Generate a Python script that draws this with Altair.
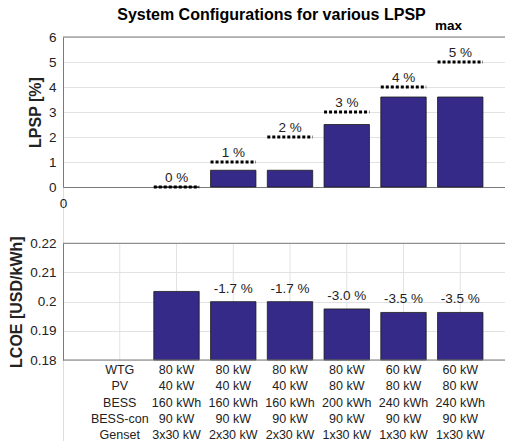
import altair as alt
import pandas as pd

# ---------------- data ----------------
positions = [2, 3, 4, 5, 6, 7]
lpsp = [0.0, 0.67, 0.67, 2.5, 3.6, 3.6]
lpsp_max = [0, 1, 2, 3, 4, 5]
lpsp_labels = ["0 %", "1 %", "2 %", "3 %", "4 %", "5 %"]
lcoe = [0.2035, 0.2000, 0.2000, 0.1975, 0.1963, 0.1963]
lcoe_labels = ["", "-1.7 %", "-1.7 %", "-3.0 %", "-3.5 %", "-3.5 %"]

row_names = ["WTG", "PV", "BESS", "BESS-con", "Genset"]
wtg = ["80 kW", "80 kW", "80 kW", "80 kW", "60 kW", "60 kW"]
pv = ["40 kW", "40 kW", "40 kW", "80 kW", "80 kW", "80 kW"]
bess = ["160 kWh", "160 kWh", "160 kWh", "200 kWh", "240 kWh", "240 kWh"]
bess_con = ["90 kW", "90 kW", "90 kW", "90 kW", "90 kW", "90 kW"]
genset = ["3x30 kW", "2x30 kW", "2x30 kW", "1x30 kW", "1x30 kW", "1x30 kW"]
label_pos = 1

lpsp_ticks = [0, 1, 2, 3, 4, 5, 6]
lcoe_ticks = [0.18, 0.19, 0.20, 0.21, 0.22]
x_ticks = [0]
grid_x = [1, 2, 3, 4, 5, 6, 7]

title_main = "System Configurations for various LPSP"
title_sub = "max"

# ---------------- tables ----------------
top_df = pd.DataFrame({"pos": positions, "lpsp": lpsp, "lpsp_max": lpsp_max,
                       "label": lpsp_labels})
bot_df = pd.DataFrame({"pos": positions, "lcoe": lcoe, "label": lcoe_labels})
grid_df = pd.DataFrame({"gx": grid_x})

rows = []
cols = [wtg, pv, bess, bess_con, genset]
for name, vals in zip(row_names, cols):
    rows.append({"row": name, "pos": label_pos, "txt": name})
    for p, v in zip(positions, vals):
        rows.append({"row": name, "pos": p, "txt": v})
table_df = pd.DataFrame(rows)
one = pd.DataFrame({"k": [0]})

FONT = "Liberation Sans"
TXT = "#222222"
FRAME = "#7a7a7a"
GRID = "#e2e2e2"
BAR = "#352A87"

xs = alt.Scale(domain=[0, 8], range=[0, 454], nice=False, zero=False)
xaxis = alt.Axis(values=x_ticks, title=None, offset=-254, ticks=False, grid=False,
                 labelPadding=9, domainColor=FRAME, labelFontSize=13.5,
                 labelFont=FONT, labelColor=TXT, labelFlush=False)


def X(f):
    return alt.X(f, type="quantitative", scale=xs, axis=xaxis)


# ---------------- top panel ----------------
ys_top = alt.Scale(domain=[0, 6], range=[150, 0], nice=False, zero=False)
yaxis_top = alt.Axis(values=lpsp_ticks, title="LPSP [%]", orient="left",
                     grid=True, gridColor=GRID, ticks=False, domainColor=FRAME,
                     labelPadding=7, labelFontSize=13.5, labelFont=FONT,
                     labelColor=TXT, titleFont=FONT, titleFontSize=16,
                     titleFontWeight="bold", titleColor=TXT, titlePadding=5)

base_top = alt.Chart(top_df).transform_calculate(
    x1="datum.pos - 0.4", x2="datum.pos + 0.4")

top_bars = base_top.mark_bar(color=BAR, stroke="#1a1a1a", strokeWidth=0.8).encode(
    x=X("x1"), x2="x2",
    y=alt.Y("lpsp", type="quantitative", scale=ys_top, axis=yaxis_top),
    y2=alt.datum(0))
top_rules = base_top.mark_rule(color="black", strokeWidth=3, strokeDash=[3, 2]).encode(
    x=X("x1"), x2="x2",
    y=alt.Y("lpsp_max", type="quantitative", scale=ys_top, axis=yaxis_top))
top_text = base_top.mark_text(font=FONT, fontSize=13.5, color=TXT,
                              baseline="alphabetic", dy=-5).encode(
    x=X("pos"),
    y=alt.Y("lpsp_max", type="quantitative", scale=ys_top, axis=yaxis_top),
    text="label")
top_frame = alt.Chart(one).mark_rule(color=FRAME, strokeWidth=1).encode(
    x=alt.X(datum=0, type="quantitative", scale=xs, axis=xaxis),
    x2=alt.datum(8),
    y=alt.Y(datum=6, type="quantitative", scale=ys_top, axis=yaxis_top))

top_layer = alt.layer(top_frame, top_bars, top_rules, top_text)

# ---------------- bottom panel ----------------
ys_bot = alt.Scale(domain=[0.18, 0.22], range=[323, 206.3], nice=False, zero=False)
yaxis_bot = alt.Axis(values=lcoe_ticks, format=".2~f", title="LCOE [USD/kWh]",
                     orient="left", grid=True, gridColor=GRID, ticks=False,
                     domainColor=FRAME, labelPadding=7, labelFontSize=13.5,
                     labelFont=FONT, labelColor=TXT, titleFont=FONT,
                     titleFontSize=16, titleFontWeight="bold", titleColor=TXT,
                     titlePadding=5)

vgrid = alt.Chart(grid_df).mark_rule(color=GRID, strokeWidth=1).encode(
    x=X("gx"),
    y=alt.Y(datum=0.18, type="quantitative", scale=ys_bot, axis=yaxis_bot),
    y2=alt.datum(0.22))
bot_frame_t = alt.Chart(one).mark_rule(color=FRAME, strokeWidth=1).encode(
    x=alt.X(datum=0, type="quantitative", scale=xs, axis=xaxis),
    x2=alt.datum(8),
    y=alt.Y(datum=0.22, type="quantitative", scale=ys_bot, axis=yaxis_bot))
bot_frame_b = alt.Chart(one).mark_rule(color=FRAME, strokeWidth=1).encode(
    x=alt.X(datum=0, type="quantitative", scale=xs, axis=xaxis),
    x2=alt.datum(8),
    y=alt.Y(datum=0.18, type="quantitative", scale=ys_bot, axis=yaxis_bot))

base_bot = alt.Chart(bot_df).transform_calculate(
    x1="datum.pos - 0.4", x2="datum.pos + 0.4")
bot_bars = base_bot.mark_bar(color=BAR, stroke="#1a1a1a", strokeWidth=0.8).encode(
    x=X("x1"), x2="x2",
    y=alt.Y("lcoe", type="quantitative", scale=ys_bot, axis=yaxis_bot),
    y2=alt.datum(0.18))
bot_text = base_bot.mark_text(font=FONT, fontSize=13.5, color=TXT,
                              baseline="alphabetic", dy=-9).encode(
    x=X("pos"),
    y=alt.Y("lcoe", type="quantitative", scale=ys_bot, axis=yaxis_bot),
    text="label")

bot_layer = alt.layer(vgrid, bot_bars, bot_frame_t, bot_frame_b, bot_text)

# ---------------- table ----------------
ys_tab = alt.Scale(type="point", domain=row_names, range=[333, 398], padding=0)
table = alt.Chart(table_df).mark_text(font=FONT, fontSize=12.5, color=TXT,
                                      baseline="middle").encode(
    x=X("pos"),
    y=alt.Y("row", type="nominal", scale=ys_tab, axis=None),
    text="txt")

# ---------------- title (with subscript) ----------------
title_txt = alt.Chart(one).mark_text(text=title_main, font=FONT, fontSize=16,
                                     fontWeight="bold", color="black",
                                     align="center", baseline="alphabetic").encode(
    x=alt.value(208.5), y=alt.value(-17))
sub_txt = alt.Chart(one).mark_text(text=title_sub, font=FONT, fontSize=13.5,
                                   fontWeight="bold", color="black", align="left",
                                   baseline="alphabetic").encode(
    x=alt.value(372), y=alt.value(-7))

chart = alt.layer(top_layer, bot_layer, table, title_txt, sub_txt).resolve_scale(
    y="independent"
).properties(
    width=442, height=404,
    autosize=alt.AutoSizeParams(type="none"),
    padding={"left": 55, "top": 29, "right": 0, "bottom": 0},
).configure_view(stroke=None).configure(background="white")

chart.save("out.html", embed_options={"renderer": "svg", "actions": False})
